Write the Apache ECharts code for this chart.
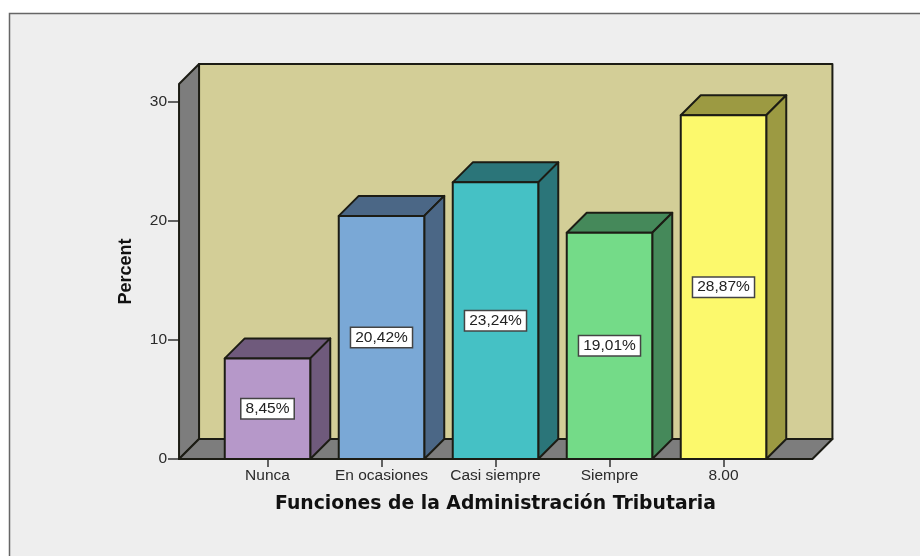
<!DOCTYPE html>
<html><head><meta charset="utf-8">
<style>html,body{margin:0;padding:0;background:#fff}#c{width:920px;height:556px}</style>
<script src="https://cdn.jsdelivr.net/npm/echarts@6/dist/echarts.min.js"></script>
</head><body><div id="c"></div>
<script>
const categories = ['Nunca', 'En ocasiones', 'Casi siempre', 'Siempre', '8.00'];
const percents = [8.45, 20.42, 23.24, 19.01, 28.87];
const yTicks = [0, 10, 20, 30];
const yTop = 31.5;
const frontColors = ['#b698c9', '#7aa8d6', '#45c1c5', '#74db88', '#fcf96c'];
const shadeColors = ['#6f5a7c', '#4b6786', '#2b7579', '#45895a', '#9c9a42'];
const wallColor = '#d3ce97', sideColor = '#7d7d7d', lineColor = '#1c1c14';
const depth = 20;
const chart = echarts.init(document.getElementById('c'), null, {renderer: 'canvas'});
function poly(points, fill, lineWidth) {
  return {type: 'polygon', shape: {points}, style: {fill, stroke: lineColor, lineWidth, lineJoin: 'round'}};
}
chart.setOption({
  animation: false,
  backgroundColor: '#ffffff',
  graphic: [{type: 'rect', z: -10, shape: {x: 9.5, y: 13.5, width: 1000, height: 1000},
    style: {fill: '#eeeeee', stroke: '#666666', lineWidth: 1.5}}],
  grid: {left: 210.5, top: 84, width: 570, height: 375},
  xAxis: {type: 'category', data: categories,
    axisLine: {show: false},
    axisTick: {show: true, alignWithLabel: true, length: 8, lineStyle: {color: '#333', width: 1.5}},
    axisLabel: {color: '#2a2a2a', fontFamily: 'Liberation Sans', fontSize: 15.5, margin: 9, interval: 0},
    name: 'Funciones de la Administración Tributaria', nameLocation: 'middle', nameGap: 36,
    nameTextStyle: {fontFamily: 'DejaVu Sans', fontWeight: 'bold', fontSize: 18.8, color: '#111'}
  },
  yAxis: {type: 'value', min: 0, max: yTop, interval: 10, offset: 31.5,
    splitLine: {show: false},
    axisLine: {show: false},
    axisTick: {show: true, length: 11, customValues: yTicks, lineStyle: {color: '#333', width: 1.5}},
    axisLabel: {color: '#2a2a2a', fontFamily: 'Liberation Sans', fontSize: 15.5, margin: 12, customValues: yTicks, padding: [2, 0, 0, 0]},
    name: 'Percent', nameLocation: 'middle', nameGap: 44, nameRotate: 90,
    nameTextStyle: {fontFamily: 'Liberation Sans', fontWeight: 'bold', fontSize: 18, color: '#111'}
  },
  series: [{
    type: 'custom', coordinateSystem: 'cartesian2d', silent: true, z: 1,
    data: [[0, 0]],
    renderItem(params, api) {
      const band = api.size([1, 0])[0];
      const L = api.coord([0, 0])[0] - band * 0.776;
      const R = api.coord([categories.length - 1, 0])[0] + band * 0.78;
      const B = api.coord([0, 0])[1];
      const T = api.coord([0, yTop])[1];
      return {type: 'group', children: [
        poly([[L + depth, T - depth], [R + depth, T - depth], [R + depth, B - depth], [L + depth, B - depth]], wallColor, 2),
        poly([[L, T], [L + depth, T - depth], [L + depth, B - depth], [L, B]], sideColor, 2),
        poly([[L, B], [L + depth, B - depth], [R + depth, B - depth], [R, B]], sideColor, 2)
      ]};
    }
  }, {
    type: 'custom', coordinateSystem: 'cartesian2d', silent: true, z: 2,
    data: percents.map((v, i) => [i, v]),
    encode: {x: 0, y: 1},
    renderItem(params, api) {
      const i = params.dataIndex, v = api.value(1);
      const w = api.size([1, 0])[0] * 0.75;
      const top = api.coord([i, v]), base = api.coord([i, 0]);
      const l = top[0] - w / 2, r = top[0] + w / 2, t = top[1], b = base[1];
      return {type: 'group', children: [
        poly([[l, t], [l + depth, t - depth], [r + depth, t - depth], [r, t]], shadeColors[i], 2),
        poly([[r, t], [r + depth, t - depth], [r + depth, b - depth], [r, b]], shadeColors[i], 2),
        poly([[l, t], [r, t], [r, b], [l, b]], frontColors[i], 2),
        {type: 'text', x: top[0], y: (t + b) / 2, style: {
          text: v.toFixed(2).replace('.', ',') + '%', align: 'center', verticalAlign: 'middle',
          fontFamily: 'Liberation Sans', fontSize: 15.5, fill: '#222',
          backgroundColor: '#ffffff', borderColor: '#444', borderWidth: 1.5,
          padding: [2, 4, 1, 4]}}
      ]};
    }
  }]
});
</script></body></html>
